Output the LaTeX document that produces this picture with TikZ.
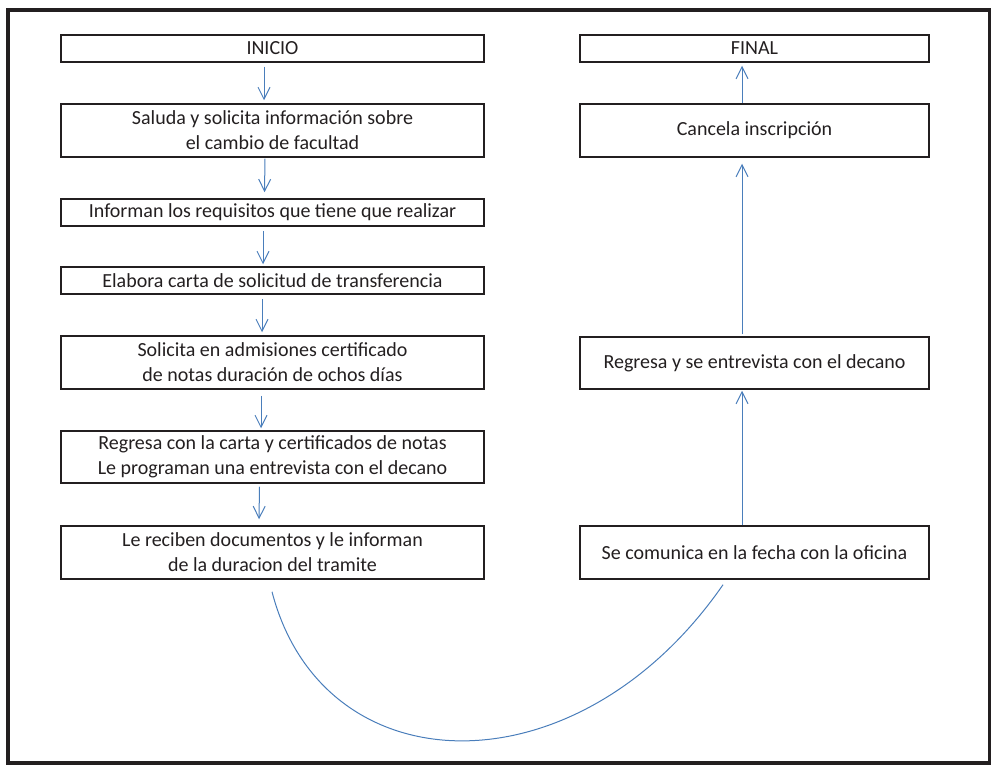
\documentclass[tikz,border=0pt]{standalone}
\usepackage{fontspec}
\setmainfont{Carlito}
\usetikzlibrary{arrows.meta,calc}
\definecolor{ink}{RGB}{35,31,32}
\definecolor{flow}{RGB}{74,126,187}
\begin{document}
\begin{tikzpicture}[x=1pt,y=-1pt,
  box/.style={draw=ink, line width=1.5pt, inner sep=0pt, align=center, font=\fontsize{20}{25}\selectfont, text=ink},
  lbox/.style={box, minimum width=423pt},
  rbox/.style={box, minimum width=349pt},
  arr/.style={draw=flow, line width=1pt, -{Straight Barb[length=12pt,width=12pt]}},
  link/.style={draw=flow, line width=1pt}]
\useasboundingbox (0,0) rectangle (991,765);
\draw[ink, line width=4pt] (8,10) rectangle (989.5,763);
% left column
\node[lbox, minimum height=27pt] (inicio) at (272.5,48.5) {INICIO};
\node[lbox, minimum height=53pt] (saluda) at (272.5,130.5) {Saluda y solicita información sobre\\el cambio de facultad};
\node[lbox, minimum height=27pt] (informan) at (272.5,212.5) {Informan los requisitos que tiene que realizar};
\node[lbox, minimum height=27pt] (elabora) at (272.5,280.5) {Elabora carta de solicitud de transferencia};
\node[lbox, minimum height=53pt] (solicita) at (272.5,362.5) {Solicita en admisiones certificado\\de notas duración de ochos días};
\node[lbox, minimum height=52pt] (regresa) at (272.5,457) {Regresa con la carta y certificados de notas\\Le programan una entrevista con el decano};
\node[lbox, minimum height=53pt] (reciben) at (272.5,552.5) {Le reciben documentos y le informan\\de la duracion del tramite};
% right column
\node[rbox, minimum height=27pt] (final) at (754.5,48.5) {FINAL};
\node[rbox, minimum height=53pt] (cancela) at (754.5,130.5) {Cancela inscripción};
\node[rbox, minimum height=52pt] (entrevista) at (754.5,363) {Regresa y se entrevista con el decano};
\node[rbox, minimum height=53pt] (comunica) at (754.5,552.5) {Se comunica en la fecha con la oficina};
% left arrows
\draw[arr] ($(inicio.south)+(-8.5,4)$) -- ($(saluda.north)+(-8.5,-3)$);
\draw[arr] ($(saluda.south)+(-7.5,1)$) -- ($(informan.north)+(-8,-6)$);
\draw[arr] ($(informan.south)+(-9.5,4)$) -- ($(elabora.north)+(-9.5,-2)$);
\draw[arr] ($(elabora.south)+(-10.5,4)$) -- ($(solicita.north)+(-10.5,-3)$);
\draw[arr] ($(solicita.south)+(-11.5,6)$) -- ($(regresa.north)+(-11.5,-2)$);
\draw[arr] ($(regresa.south)+(-13,3)$) -- ($(reciben.north)+(-13.5,-6)$);
% right arrows
\draw[arr] ($(comunica.north)+(-12.5,0)$) -- ($(entrevista.south)+(-12.5,1)$);
\draw[arr] ($(entrevista.north)+(-12.5,-2)$) -- ($(cancela.south)+(-12.5,6)$);
\draw[arr] ($(cancela.north)+(-12.5,0)$) -- ($(final.south)+(-12.5,3)$);
% connecting curve
\coordinate (c0) at ($(reciben.south)+(-0.5,12)$);
\coordinate (c1) at ($(comunica.south)+(-31.5,5)$);
\draw[link] (c0) .. controls (323,788) and (577,795.5) .. (c1);
\end{tikzpicture}
\end{document}
